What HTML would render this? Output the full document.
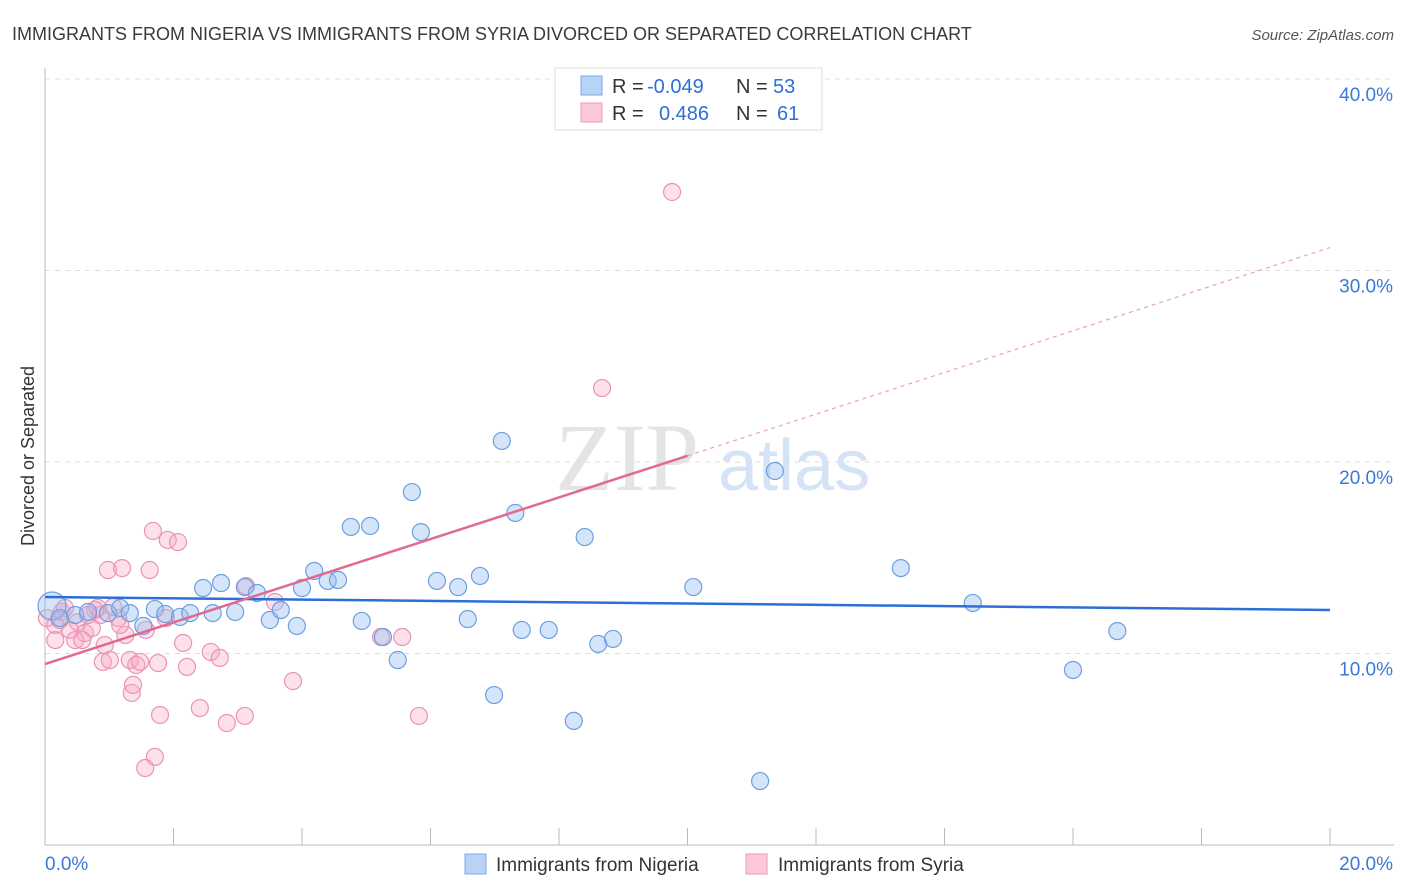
<!DOCTYPE html>
<html><head><meta charset="utf-8"><style>
body{margin:0;background:#fff;font-family:"Liberation Sans",sans-serif;}
#wrap{position:relative;width:1406px;height:892px;overflow:hidden;}
</style></head><body>
<div id="wrap">
<svg id="chart" width="1406" height="892" xmlns="http://www.w3.org/2000/svg">
<text x="12" y="40" font-size="18" fill="#3a3a3a">IMMIGRANTS FROM NIGERIA VS IMMIGRANTS FROM SYRIA DIVORCED OR SEPARATED CORRELATION CHART</text>
<text x="1394" y="40" font-size="15" fill="#555" text-anchor="end" font-style="italic">Source: ZipAtlas.com</text>
<text x="0" y="0" transform="translate(34,456) rotate(-90)" font-size="18" fill="#333" text-anchor="middle">Divorced or Separated</text>
<g>
<text x="555" y="490" font-size="96" fill="#e4e4e4" font-family="Liberation Serif,serif">ZIP</text>
<text x="718" y="490" font-size="72" fill="#d4e3f5">atlas</text>
</g>
<g id="grid"></g><g id="axes"></g><g id="pts"></g><g id="lines"></g>
<g>
<rect x="555" y="68" width="267" height="62" fill="#fff" stroke="#ddd"/>
<rect x="581" y="76" width="21" height="19" fill="#b8d3f5" stroke="#7ba9e6"/>
<rect x="581" y="103" width="21" height="19" fill="#fac8d8" stroke="#ee9ab7"/>
<text y="93" font-size="20"><tspan x="612" fill="#333">R = </tspan><tspan x="647" fill="#2f6fd6">-0.049</tspan><tspan x="736" fill="#333">N = </tspan><tspan x="773" fill="#2f6fd6">53</tspan></text>
<text y="120" font-size="20"><tspan x="612" fill="#333">R = </tspan><tspan x="659" fill="#2f6fd6">0.486</tspan><tspan x="736" fill="#333">N = </tspan><tspan x="777" fill="#2f6fd6">61</tspan></text>
</g>
<g>
<rect x="465" y="854" width="21" height="20" fill="#b8d3f5" stroke="#7ba9e6"/>
<text x="496" y="871" font-size="19" fill="#333">Immigrants from Nigeria</text>
<rect x="746" y="854" width="21" height="20" fill="#fac8d8" stroke="#ee9ab7"/>
<text x="778" y="871" font-size="19" fill="#333">Immigrants from Syria</text>
</g>
</svg>
</div>
<script>
const yTicks=[10,20,30,40];
const yTickLabels=["10.0%","20.0%","30.0%","40.0%"];
const xTickValues=[0,2,4,6,8,10,12,14,16,18,20];
const xEndLabels=["0.0%","20.0%"];
const nigeriaX=[0.11,0.23,0.47,0.67,0.98,1.17,1.32,1.53,1.71,1.87,2.10,2.26,2.46,2.61,2.74,2.96,3.11,3.30,3.50,3.67,3.92,4.00,4.19,4.40,4.56,4.76,4.93,5.06,5.26,5.49,5.71,5.85,6.10,6.43,6.58,6.77,6.99,7.11,7.32,7.42,7.84,8.23,8.40,8.61,8.84,10.09,11.13,11.36,13.32,14.44,16.00,16.69];
const nigeriaY=[12.48,11.85,12.01,12.17,12.11,12.38,12.11,11.44,12.32,12.06,11.91,12.11,13.42,12.11,13.68,12.17,13.47,13.16,11.75,12.27,11.44,13.42,14.31,13.79,13.84,16.61,11.70,16.66,10.86,9.66,18.43,16.34,13.79,13.47,11.80,14.05,7.83,21.10,17.34,11.23,11.23,6.48,16.08,10.50,10.76,13.47,3.34,19.53,14.46,12.64,9.14,11.17];
const syriaX=[0.03,0.16,0.26,0.39,0.51,0.62,0.73,0.86,0.78,0.93,0.90,1.01,0.98,1.14,1.20,1.25,1.32,1.42,1.35,1.37,1.48,1.57,1.63,1.68,1.76,1.79,1.71,1.56,1.91,2.07,2.15,2.21,1.88,2.41,2.58,2.72,2.83,3.11,3.13,3.58,3.86,5.23,5.56,5.82,8.67,9.76,0.82,1.06,0.47,0.67,0.31,0.16,1.17,0.23,0.58];
const syriaY=[11.85,11.49,12.17,11.23,11.64,11.07,11.33,12.01,12.27,10.44,9.56,9.66,14.36,11.85,14.46,10.97,9.66,9.40,7.94,8.36,9.56,11.23,14.36,16.40,9.50,6.79,4.60,4.02,15.93,15.82,10.55,9.30,11.85,7.15,10.08,9.77,6.37,6.74,13.52,12.69,8.56,10.86,10.86,6.74,23.86,34.10,12.38,12.43,10.70,12.01,12.38,10.70,11.49,11.75,10.70];
const nigeriaTrend=[12.95,12.27];
const syriaTrend=[9.45,31.2];
const NS="http://www.w3.org/2000/svg";
const X0=45,X1=1330,YB=845,PXY=19.15;
function sx(v){return X0+(v/20)*(X1-X0);}
function sy(v){return YB-v*PXY;}
function mk(tag,attrs,parent){const e=document.createElementNS(NS,tag);for(const k in attrs)e.setAttribute(k,attrs[k]);parent.appendChild(e);return e;}
const grid=document.getElementById('grid'),axes=document.getElementById('axes'),pts=document.getElementById('pts'),lines=document.getElementById('lines');
yTicks.forEach((t,i)=>{
 const l=mk('line',{x1:X0,x2:1394,y1:sy(t),y2:sy(t),stroke:'#ddd','stroke-dasharray':'5,5'},grid);
 
 
 const tx=mk('text',{x:1393,y:sy(t)+22,'font-size':19,fill:'#3b78d8','text-anchor':'end'},axes);
 tx.textContent=yTickLabels[i];
 
 
});
const ax=mk('line',{x1:X0,x2:X0,y1:68,y2:YB,stroke:'#bbb'},axes);


const bx=mk('line',{x1:X0,x2:1394,y1:YB,y2:YB,stroke:'#bbb'},axes);


xTickValues.forEach(v=>{
 const t=mk('line',{x1:sx(v),x2:sx(v),y1:828,y2:YB,stroke:'#bbb'},axes);
 
 
});
const xl0=mk('text',{x:45,y:870,'font-size':19,fill:'#3b78d8'},axes);
xl0.textContent=xEndLabels[0];


const xl1=mk('text',{x:1393,y:870,'font-size':19,fill:'#3b78d8','text-anchor':'end'},axes);
xl1.textContent=xEndLabels[1];


syriaX.forEach((x,i)=>{
 const c=mk('circle',{cx:sx(x),cy:sy(syriaY[i]),r:8.5,fill:'rgba(246,168,196,0.35)',stroke:'#ec93b3','stroke-width':1.2},pts);
 
 
});
nigeriaX.forEach((x,i)=>{
 const c=mk('circle',{cx:sx(x),cy:sy(nigeriaY[i]),r:i===0?14:8.5,fill:'rgba(150,190,240,0.4)',stroke:'#6c9fe2','stroke-width':1.2},pts);
 
 
});
const nl=mk('line',{x1:sx(0),y1:sy(nigeriaTrend[0]),x2:sx(20),y2:sy(nigeriaTrend[1]),stroke:'#2b6fd6','stroke-width':2.5},lines);


const slope=(syriaTrend[1]-syriaTrend[0])/20;
const mid=syriaTrend[0]+slope*10;
const sl=mk('line',{x1:sx(0),y1:sy(syriaTrend[0]),x2:sx(10),y2:sy(mid),stroke:'#e2698f','stroke-width':2.5},lines);


const sd=mk('line',{x1:sx(10),y1:sy(mid),x2:sx(20),y2:sy(syriaTrend[1]),stroke:'#eaa0b8','stroke-width':1.2,'stroke-dasharray':'4,4'},lines);


</script>
</body></html>
